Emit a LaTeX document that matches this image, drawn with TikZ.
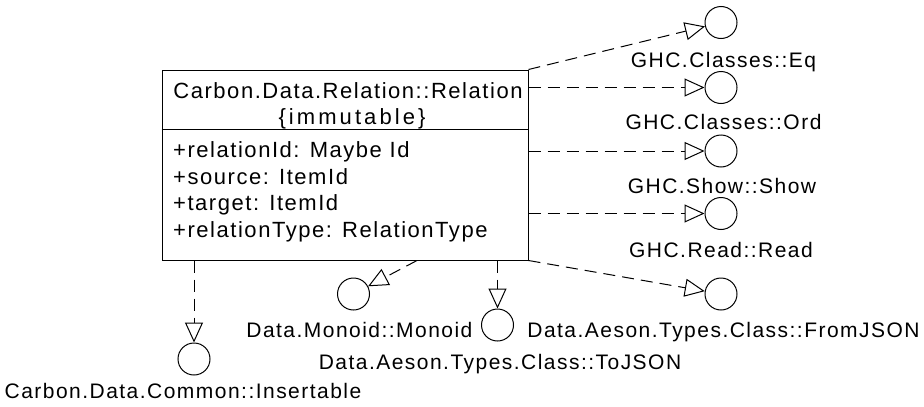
\documentclass[tikz,border=0pt]{standalone}
\usepackage{fontspec}
\setmainfont{Liberation Sans}
\usetikzlibrary{arrows.meta}

\tikzset{
  boxtext/.style={font=\fontsize{22}{26}\selectfont\addfontfeatures{LetterSpace=7}},
  lbltext/.style={font=\fontsize{21}{25}\selectfont\addfontfeatures{LetterSpace=7}, anchor=base},
  iface/.style={draw, circle, line width=1pt, minimum size=32pt, inner sep=0pt},
  realizes/.style={draw, line width=1pt, dash pattern=on 12pt off 7pt,
    -{Triangle[open, length=20pt, width=18pt, line width=1pt]}},
}

\begin{document}
\begin{tikzpicture}[x=1pt, y=-1pt]
\useasboundingbox (0,0) rectangle (924,407);

% class box
\node[draw, line width=1pt, minimum width=366pt, minimum height=190pt, inner sep=0pt] (cls) at (345,165) {};
\draw[line width=1pt] (cls.west |- 0,129.5) -- (cls.east |- 0,129.5);
\node[boxtext, anchor=base] (title) at (348,98) {Carbon.Data.Relation::Relation};
\node[boxtext, anchor=base, font=\fontsize{22}{26}\selectfont\addfontfeatures{LetterSpace=14}] (stereo) at (352,124) {\{immutable\}};
\node[boxtext, anchor=base west, inner sep=0pt] (a1) at (173,157) {+relationId: Maybe Id};
\node[boxtext, anchor=base west, inner sep=0pt] (a2) at (173,184) {+source: ItemId};
\node[boxtext, anchor=base west, inner sep=0pt] (a3) at (173,210.5) {+target: ItemId};
\node[boxtext, anchor=base west, inner sep=0pt] (a4) at (173,237) {+relationType: RelationType};

% interfaces
\node[iface] (eq) at (721,22.5) {};
\node[lbltext] (eqlbl) at (723.5,67) {GHC.Classes::Eq};
\node[iface] (ord) at (721,87.5) {};
\node[lbltext] (ordlbl) at (723.5,129) {GHC.Classes::Ord};
\node[iface] (show) at (721,151) {};
\node[lbltext] (showlbl) at (722,193) {GHC.Show::Show};
\node[iface] (read) at (721,213.5) {};
\node[lbltext] (readlbl) at (721,257) {GHC.Read::Read};
\node[iface] (fromjson) at (721,294) {};
\node[lbltext] (fromjsonlbl) at (723.5,337) {Data.Aeson.Types.Class::FromJSON};
\node[iface] (monoid) at (353.5,294) {};
\node[lbltext, anchor=base east] (monoidlbl) at (476,337) {Data.Monoid::Monoid};
\node[iface] (tojson) at (497.5,325) {};
\node[lbltext] (tojsonlbl) at (500,369) {Data.Aeson.Types.Class::ToJSON};
\node[iface] (insert) at (194,359) {};
\node[lbltext] (insertlbl) at (183,398) {Carbon.Data.Common::Insertable};

% realizations
\draw[realizes] (cls.north east) -- (eq);
\draw[realizes] (cls.east |- ord) -- (ord);
\draw[realizes] (cls.east |- show) -- (show);
\draw[realizes] (cls.east |- read) -- (read);
\draw[realizes] (cls.south east) -- (fromjson);
\draw[realizes] (cls.south -| 417,0) -- (monoid);
\draw[realizes] (cls.south -| tojson) -- (tojson);
\draw[realizes] (cls.south -| insert) -- (insert);
\end{tikzpicture}
\end{document}
